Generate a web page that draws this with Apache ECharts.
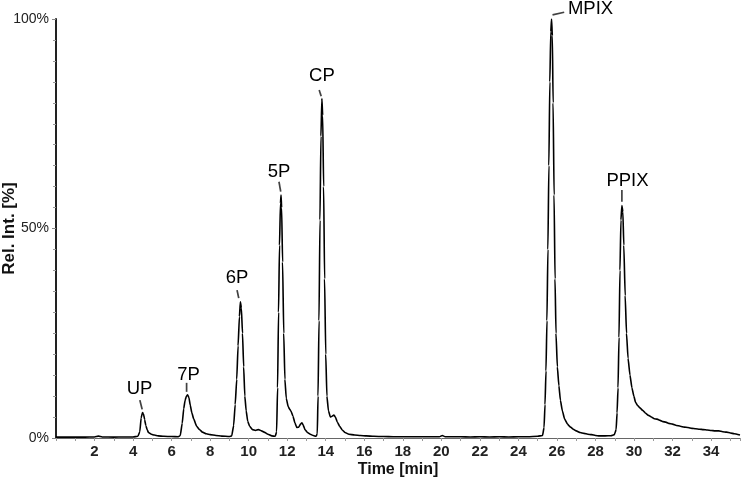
<!DOCTYPE html>
<html><head><meta charset="utf-8">
<script src="https://cdn.jsdelivr.net/npm/echarts@6/dist/echarts.min.js"></script>
<style>html,body{margin:0;padding:0;background:#fff}#c{width:742px;height:480px}</style>
</head><body><div id="c"></div>
<script>
const xTitle = 'Time [min]';
const yTitle = 'Rel. Int. [%]';
const xTickLabels = ['2','4','6','8','10','12','14','16','18','20','22','24','26','28','30','32','34'];
const yTickValues = [0, 50, 100];
const yTickLabels = ['0%', '50%', '100%'];
const peakNames  = ['UP', '7P', '6P', '5P', 'CP', 'MPIX', 'PPIX'];
const peakTimes  = [4.49, 6.83, 9.57, 11.68, 13.8, 25.72, 29.37];
const peakValues = [6.1, 10.3, 32.5, 58, 81, 100, 55.5];
// chromatogram trace: [time (min), relative intensity (%)]
const trace = [
[0,0.2],[0.5,0.2],[1,0.2],[1.5,0.2],[2,0.25],[2.2,0.45],[2.4,0.25],[3,0.2],[3.5,0.25],[4,0.25],[4.25,0.4],
[4.35,1.5],[4.42,4.8],[4.49,6.1],[4.54,5.8],[4.6,4.4],[4.66,3.0],[4.73,2.0],[4.8,1.3],[4.95,0.9],[5.1,0.7],[5.3,0.5],[5.6,0.4],[6.0,0.35],[6.35,0.3],[6.45,0.6],
[6.55,3.5],[6.63,7.0],[6.7,9.0],[6.77,10.0],[6.83,10.3],[6.9,9.6],[6.97,7.8],[7.05,6.0],[7.15,4.5],[7.3,2.8],[7.45,2.0],[7.6,1.4],[7.8,1.0],[8.0,0.8],[8.3,0.6],[8.6,0.45],[9.0,0.35],[9.12,0.5],
[9.22,3],[9.3,8],[9.38,14],[9.45,22],[9.52,29],[9.57,32.5],[9.62,31],[9.68,25],[9.74,17],[9.8,10],[9.87,6.5],[9.95,4],[10.05,2.8],[10.2,2.0],[10.35,1.8],[10.5,2.0],[10.62,1.8],[10.8,1.4],[11.0,0.9],[11.2,0.5],[11.38,0.4],[11.45,1.5],
[11.5,12],[11.55,30],[11.6,46],[11.65,56],[11.68,58],[11.71,55],[11.76,42],[11.82,25],[11.88,14],[11.95,9.5],[12.05,7.5],[12.14,6.8],[12.2,6.4],[12.3,5.2],[12.4,3.6],[12.5,2.5],[12.6,2.6],[12.7,3.4],[12.76,3.6],[12.82,3.2],[12.92,2.0],[13.05,1.3],[13.2,0.9],[13.35,0.6],[13.5,0.4],[13.56,1.0],
[13.6,10],[13.65,28],[13.7,52],[13.75,72],[13.8,81],[13.84,77],[13.89,60],[13.94,38],[14.0,20],[14.06,10],[14.14,6.5],[14.24,5.0],[14.33,5.2],[14.42,5.5],[14.5,5.0],[14.6,3.8],[14.72,2.8],[14.86,1.9],[15.0,1.3],[15.2,0.9],[15.5,0.7],[15.8,0.6],[16.1,0.5],[16.5,0.4],
[17,0.35],[17.5,0.3],[18,0.3],[18.5,0.3],[19,0.3],[19.5,0.3],[19.9,0.3],[20.05,0.6],[20.2,0.3],[20.6,0.3],[21,0.3],[21.5,0.25],[22,0.3],[22.5,0.25],[23,0.3],[23.5,0.25],[24,0.3],[24.5,0.3],[25,0.4],[25.25,0.6],
[25.33,2.5],[25.38,8],[25.43,16],[25.48,28],[25.53,45],[25.58,65],[25.63,85],[25.68,97],[25.72,100],[25.76,96],[25.8,80],[25.85,58],[25.9,38],[25.95,25],[26.02,17],[26.1,12.5],[26.18,9],[26.28,6.5],[26.4,4.5],[26.55,3.3],[26.7,2.6],[26.85,2.1],[27.0,1.7],[27.2,1.3],[27.4,1.1],[27.6,0.9],[27.8,0.8],[28.0,0.6],[28.2,0.5],[28.5,0.5],[28.8,0.55],[28.98,0.8],
[29.07,2],[29.12,6],[29.17,12],[29.22,24],[29.27,40],[29.32,52],[29.37,55.5],[29.42,54],[29.47,46],[29.54,34],[29.61,25],[29.69,19],[29.79,15],[29.89,12],[29.99,10],[30.08,8.5],[30.18,7.8],[30.3,7.2],[30.45,6.6],[30.6,5.9],[30.75,5.4],[30.9,5.0],[31.05,4.6],[31.2,4.5],[31.35,4.2],[31.5,3.9],[31.65,3.8],[31.8,3.5],[32.0,3.3],[32.2,3.0],[32.4,2.8],[32.6,2.6],[32.8,2.5],[33.0,2.3],[33.2,2.2],[33.4,2.1],[33.6,2.0],[33.8,1.9],[34.0,1.8],[34.2,1.7],[34.4,1.7],[34.6,1.5],[34.8,1.4],[35.0,1.2],[35.2,1.0],[35.5,0.7]
];

// presentation of the peak annotations (screen offsets in px)
const annotStyle = {
  'UP':   {label:[-3,-24],  dash:[-1.5,-7.7], len:9.6, rot:14},
  '7P':   {label:[1,-20],   dash:[-1,-7.5],   len:9,   rot:0},
  '6P':   {label:[-3.4,-24], dash:[-2.5,-7.7], len:8.2, rot:12},
  '5P':   {label:[-2,-23],  dash:[-1.2,-8.3], len:10,  rot:10},
  'CP':   {label:[0,-22.5], dash:[-1.7,-5.5], len:6.5, rot:18},
  'MPIX': {label:[39,-10.5],dash:[6.8,-5.4],  len:12,  rot:-77},
  'PPIX': {label:[5.6,-25], dash:[0,-9.5],    len:11.7,rot:0}
};

const FONT = '"Liberation Sans", Arial, sans-serif';
const chart = echarts.init(document.getElementById('c'), null, {renderer:'canvas'});

const dashData = peakNames.map((n, i) => ({
  value: [peakTimes[i], peakValues[i]], name: n,
  symbolSize: [1.7, annotStyle[n].len],
  symbolOffset: annotStyle[n].dash,
  symbolRotate: annotStyle[n].rot
}));
const labelData = peakNames.map((n, i) => ({
  value: [peakTimes[i], peakValues[i]], name: n,
  label: {offset: annotStyle[n].label}
}));

chart.setOption({
  animation: false,
  backgroundColor: '#fff',
  grid: {left: 56, right: 2, top: 19, bottom: 42, containLabel: false, outerBoundsMode: 'none'},
  xAxis: {
    type: 'value', min: 0, max: 35.5, interval: 2,
    name: xTitle, nameLocation: 'middle', nameGap: 24, nameMoveOverlap: false,
    nameTextStyle: {fontFamily: FONT, fontWeight: 'bold', fontSize: 16, color: '#111'},
    axisLine: {show: true, onZero: false, lineStyle: {color: '#666', width: 1}},
    axisTick: {show: true, length: 3, lineStyle: {color: '#999'}},
    minorTick: {show: true, splitNumber: 2, length: 3, lineStyle: {color: '#999'}},
    splitLine: {show: false},
    axisLabel: {
      margin: 6, fontFamily: FONT, fontWeight: 'bold', fontSize: 15, color: '#222',
      showMinLabel: false, showMaxLabel: false,
      formatter: v => xTickLabels.includes(String(v)) ? String(v) : ''
    }
  },
  yAxis: {
    type: 'value', min: 0, max: 100, interval: 50,
    name: yTitle, nameLocation: 'middle', nameGap: 38.5, nameRotate: 90, nameMoveOverlap: false,
    nameTextStyle: {fontFamily: FONT, fontWeight: 'bold', fontSize: 17, color: '#111'},
    axisLine: {show: true, onZero: false, lineStyle: {color: '#222', width: 2}},
    axisTick: {show: true, length: 4, lineStyle: {color: '#888'}},
    minorTick: {show: true, splitNumber: 10, length: 3, lineStyle: {color: '#999'}},
    splitLine: {show: false},
    axisLabel: {
      margin: 7, fontFamily: FONT, fontSize: 14, color: '#222',
      formatter: v => { const k = yTickValues.indexOf(v); return k >= 0 ? yTickLabels[k] : ''; }
    }
  },
  series: [
    {
      type: 'line', data: trace, showSymbol: false, smooth: 0.15, smoothMonotone: 'x',
      lineStyle: {color: '#000', width: 1.6}, silent: true, z: 2
    },
    {
      type: 'scatter', data: dashData, symbol: 'rect', clip: false, silent: true,
      itemStyle: {color: '#111'}, z: 3
    },
    {
      type: 'scatter', data: labelData, symbolSize: 0.1, clip: false, silent: true,
      itemStyle: {color: 'rgba(0,0,0,0)'}, z: 4,
      label: {show: true, position: 'inside', formatter: p => p.name,
        fontFamily: FONT, fontSize: 18.5, color: '#000', textBorderWidth: 0, opacity: 1}
    }
  ]
});
</script>
</body></html>
